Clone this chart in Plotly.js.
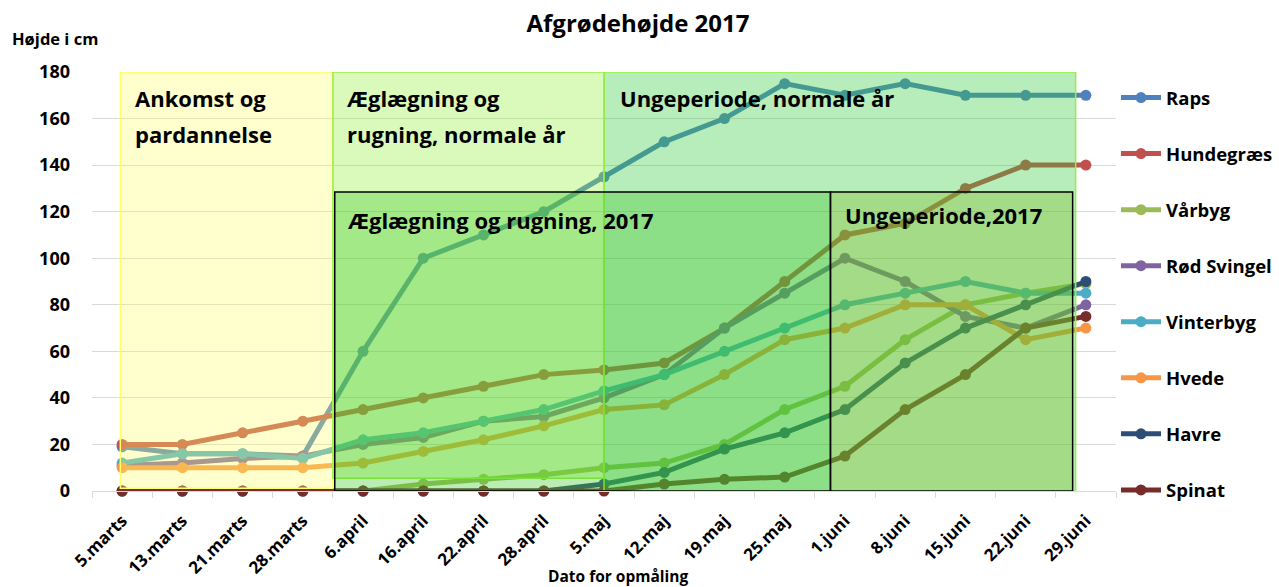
<!DOCTYPE html>
<html>
<head>
<meta charset="utf-8">
<script src="https://cdn.plot.ly/plotly-3.0.1.min.js"></script>
<style>
  html, body { margin: 0; padding: 0; background: #ffffff; }
  #chart { width: 1279px; height: 587px; }
</style>
</head>
<body>
<div id="chart"></div>
<script>
// ---- data ----
const categories = ['5.marts','13.marts','21.marts','28.marts','6.april','16.april','22.april','28.april','5.maj','12.maj','19.maj','25.maj','1.juni','8.juni','15.juni','22.juni','29.juni'];
const seriesNames = ['Raps','Hundegræs','Vårbyg','Rød Svingel','Vinterbyg','Hvede','Havre','Spinat'];
const raps        = [19,16,16,15,60,100,110,120,135,150,160,175,170,175,170,170,170];
const hundegraes  = [20,20,25,30,35,40,45,50,52,55,70,90,110,115,130,140,140];
const vaarbyg     = [0,0,0,0,0,3,5,7,10,12,20,35,45,65,80,85,89];
const roedSvingel = [11,12,14,15,20,23,30,32,40,50,70,85,100,90,75,70,80];
const vinterbyg   = [12,16,16,14,22,25,30,35,43,50,60,70,80,85,90,85,85];
const hvede       = [10,10,10,10,12,17,22,28,35,37,50,65,70,80,80,65,70];
const havre       = [0,0,0,0,0,0,0,0,3,8,18,25,35,55,70,80,90];
const spinat      = [0,0,0,0,0,0,0,0,0,3,5,6,15,35,50,70,75];
const yTicks = [0,20,40,60,80,100,120,140,160,180];

const seriesValues = [raps, hundegraes, vaarbyg, roedSvingel, vinterbyg, hvede, havre, spinat];
const colors = ['#4F81BD','#C0504D','#9BBB59','#8064A2','#4BACC6','#F79646','#2C4D75','#772C2A'];

const FONT = '"Open Sans", "Noto Sans", sans-serif';

const traces = seriesNames.map((name, i) => ({
  type: 'scatter',
  mode: 'lines+markers',
  name: name,
  x: categories,
  y: seriesValues[i],
  line: { color: colors[i], width: 5 },
  marker: { color: colors[i], size: 11 },
  cliponaxis: false,
  legendgroup: 'g' + i
}));

const shapes = [
  // Ankomst og pardannelse
  { type: 'rect', xref: 'x', yref: 'y', x0: -0.03, x1: 3.5, y0: 1.2, y1: 180,
    fillcolor: 'rgba(255,255,102,0.33)', line: { color: '#ffff66', width: 1.5 }, layer: 'above' },
  // Æglægning og rugning, normale år
  { type: 'rect', xref: 'x', yref: 'y', x0: 3.5, x1: 8.0, y0: 5.5, y1: 180,
    fillcolor: 'rgba(150,240,60,0.35)', line: { color: '#99ee44', width: 1.5 }, layer: 'above' },
  // Ungeperiode, normale år
  { type: 'rect', xref: 'x', yref: 'y', x0: 8.0, x1: 15.83, y0: -0.8, y1: 180,
    fillcolor: 'rgba(50,200,60,0.35)', line: { color: '#99ee44', width: 1.5 }, layer: 'above' },
  // Æglægning og rugning, 2017
  { type: 'rect', xref: 'x', yref: 'y', x0: 3.53, x1: 11.76, y0: 0, y1: 128.4,
    fillcolor: 'rgba(60,200,40,0.35)', line: { color: '#000000', width: 1.5 }, layer: 'above' },
  // Ungeperiode, 2017
  { type: 'rect', xref: 'x', yref: 'y', x0: 11.76, x1: 15.78, y0: 0, y1: 128.4,
    fillcolor: 'rgba(130,190,40,0.35)', line: { color: '#000000', width: 1.5 }, layer: 'above' }
];

const boxFont = { family: FONT, size: 22, color: '#000000', weight: 'bold' };
function boxText(txt, x, y) {
  return { xref: 'x', yref: 'y', x: x, y: y, text: txt, showarrow: false,
    xanchor: 'left', yanchor: 'middle', align: 'left', font: boxFont, borderpad: 0 };
}
const annotations = [
  boxText('Ankomst og', 0.19, 169.0),
  boxText('pardannelse', 0.19, 153.5),
  boxText('Æglægning og', 3.72, 169.0),
  boxText('rugning, normale år', 3.72, 153.5),
  boxText('Ungeperiode, normale år', 8.25, 169.0),
  boxText('Æglægning og rugning, 2017', 3.74, 116.4),
  boxText('Ungeperiode,2017', 11.99, 118.6),
  { xref: 'paper', yref: 'paper', x: (10 - 92) / 1031, y: (491 - 38) / 419, text: 'Højde i cm', showarrow: false,
    xanchor: 'left', yanchor: 'middle', borderpad: 0, font: { family: FONT, size: 16.5, color: '#000000', weight: 'bold' } },
  { xref: 'paper', yref: 'paper', x: (622 - 92) / 1031, y: (491 - 576) / 419, text: 'Dato for opmåling', showarrow: false,
    xanchor: 'center', yanchor: 'middle', borderpad: 0, font: { family: FONT, size: 15.5, color: '#000000', weight: 'bold' } }
];

const layout = {
  width: 1279, height: 587,
  paper_bgcolor: '#ffffff', plot_bgcolor: '#ffffff',
  margin: { l: 92, r: 156, t: 72, b: 96 },
  title: { text: 'Afgrødehøjde 2017', x: 638/1279, xanchor: 'center', xref: 'container', y: 1 - 24/587, yref: 'container', yanchor: 'middle',
    font: { family: FONT, size: 24, color: '#000000', weight: 'bold' } },
  xaxis: {
    type: 'category', range: [-0.5, 16.5],
    showgrid: false, showline: true, linecolor: '#d9d9d9', linewidth: 1,
    ticks: 'outside', tickson: 'boundaries', ticklen: 6, tickcolor: '#d9d9d9',
    tickangle: -45, ticklabelstandoff: 12,
    tickfont: { family: FONT, size: 17, color: '#000000', weight: 'bold' },
    zeroline: false
  },
  yaxis: {
    range: [0, 180], tickvals: yTicks, showgrid: true, gridcolor: '#d9d9d9', gridwidth: 1,
    showline: false, zeroline: false, ticks: '', ticklabelstandoff: 21,
    tickfont: { family: FONT, size: 18, color: '#000000', weight: 'bold' }
  },
  legend: {
    xref: 'container', yref: 'container', x: 1116/1279, y: 1 - 79/587, xanchor: 'left', yanchor: 'top',
    font: { family: FONT, size: 18.5, color: '#000000', weight: 'bold' },
    tracegroupgap: 29, itemwidth: 40, bgcolor: 'rgba(0,0,0,0)', maxheight: 560
  },
  showlegend: true,
  shapes: shapes,
  annotations: annotations
};

Plotly.newPlot('chart', traces, layout, { displayModeBar: false, staticPlot: true });
</script>
</body>
</html>
